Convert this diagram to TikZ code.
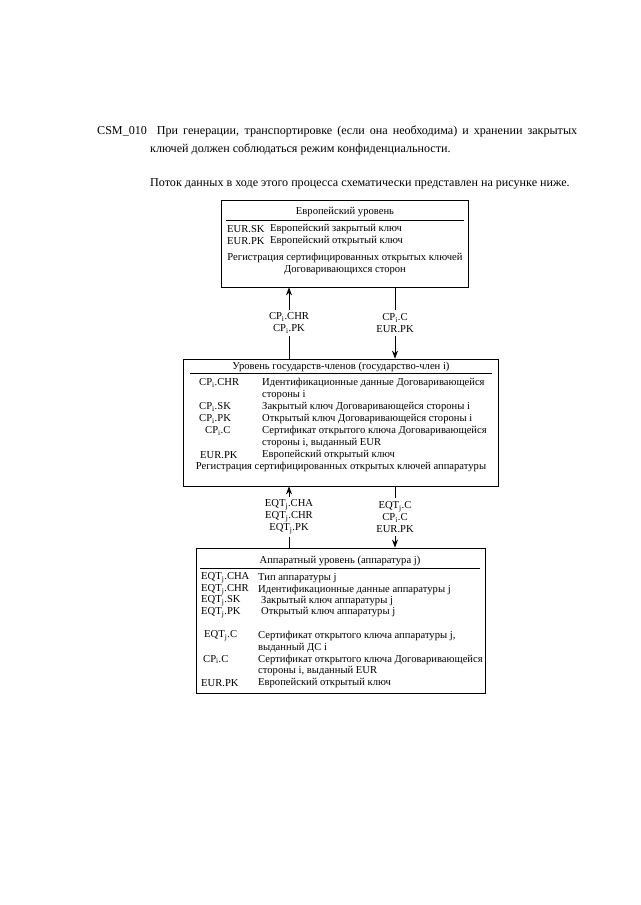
\documentclass[tikz,border=0pt]{standalone}
\usepackage{fontspec}
\setmainfont{Liberation Serif}
\usetikzlibrary{arrows.meta}
\newcommand{\sbi}[1]{\textsubscript{#1}}
\begin{document}
\begin{tikzpicture}[x=1pt,y=-1pt,
  maintext/.style={font=\fontsize{12.1}{15}\selectfont, inner sep=0pt, anchor=west},
  dtext/.style={font=\fontsize{10.6}{12}\selectfont, inner sep=0pt, anchor=west},
  ctext/.style={font=\fontsize{10.6}{12.5}\selectfont, inner sep=0pt, align=center},
  box/.style={draw, line width=0.8pt, inner sep=0pt},
  rule/.style={line width=0.8pt},
  arr/.style={line width=0.8pt, -{Stealth[length=8pt,width=6pt]}},
  lbl/.style={font=\fontsize{10.6}{12}\selectfont, fill=white, align=center, inner sep=3pt}]
\useasboundingbox (0,0) rectangle (640,905);

% heading paragraph
\node[maintext] (p1) at (97,131) {\makebox[480pt][s]{CSM\_010\ \ При генерации, транспортировке (если она необходима) и хранении закрытых}};
\node[maintext] (p2) at (150,149) {ключей должен соблюдаться режим конфиденциальности.};
\node[maintext] (p3) at (150,184) {Поток данных в ходе этого процесса схематически представлен на рисунке ниже.};

% column coordinates
\coordinate (xl) at (289,0);
\coordinate (xr) at (395,0);

% ---------- European level ----------
\node[box, minimum width=247pt, minimum height=87pt] (eur) at (344.5,243.5) {};
\node[ctext] (eurh) at (345,212) {Европейский уровень};
\draw[rule] (226,220) -- (464,220);
\node[dtext] (e1l) at (227,229) {EUR.SK};
\node[dtext] (e1r) at (270,229) {Европейский закрытый ключ};
\node[dtext] (e2l) at (227,241) {EUR.PK};
\node[dtext] (e2r) at (270,241) {Европейский открытый ключ};
\node[ctext] (e3) at (345,264) {Регистрация сертифицированных открытых ключей\\Договаривающихся сторон};

% ---------- Member state level ----------
\node[box, minimum width=315pt, minimum height=127pt] (ms) at (340.5,422.5) {};
\node[ctext] (msh) at (341,367) {Уровень государств-членов (государство-член i)};
\draw[rule] (190,373) -- (492,373);
\node[dtext] (m1l) at (199,383) {CP\sbi{i}.CHR};
\node[dtext] (m1r) at (262,383) {Идентификационные данные Договаривающейся};
\node[dtext] (m1s) at (262,395) {стороны i};
\node[dtext] (m2l) at (199,407) {CP\sbi{i}.SK};
\node[dtext] (m2r) at (262,407) {Закрытый ключ Договаривающейся стороны i};
\node[dtext] (m3l) at (199,419) {CP\sbi{i}.PK};
\node[dtext] (m3r) at (262,419) {Открытый ключ Договаривающейся стороны i};
\node[dtext] (m4l) at (205,431) {CP\sbi{i}.C};
\node[dtext] (m4r) at (262,431) {Сертификат открытого ключа Договаривающейся};
\node[dtext] (m4s) at (262,443) {стороны i, выданный EUR};
\node[dtext] (m5l) at (200,455) {EUR.PK};
\node[dtext] (m5r) at (262,455) {Европейский открытый ключ};
\node[ctext] (m6) at (341,467) {Регистрация сертифицированных открытых ключей аппаратуры};

% ---------- Equipment level ----------
\node[box, minimum width=289pt, minimum height=145pt] (eq) at (340.5,620.5) {};
\node[ctext] (eqh) at (340,561) {Аппаратный уровень (аппаратура j)};
\draw[rule] (200,568) -- (480,568);
\node[dtext] (q1l) at (201,578) {EQT\sbi{j}.CHA};
\node[dtext] (q1r) at (258,578) {Тип аппаратуры j};
\node[dtext] (q2l) at (201,589.5) {EQT\sbi{j}.CHR};
\node[dtext] (q2r) at (258,589.5) {Идентификационные данные аппаратуры j};
\node[dtext] (q3l) at (201,601) {EQT\sbi{j}.SK};
\node[dtext] (q3r) at (261,601) {Закрытый ключ аппаратуры j};
\node[dtext] (q4l) at (201,612.5) {EQT\sbi{j}.PK};
\node[dtext] (q4r) at (261,612.5) {Открытый ключ аппаратуры j};
\node[dtext] (q5l) at (204,636) {EQT\sbi{j}.C};
\node[dtext] (q5r) at (258,636) {Сертификат открытого ключа аппаратуры j,};
\node[dtext] (q5s) at (258,647.5) {выданный ДС i};
\node[dtext] (q6l) at (203,659.5) {CP\sbi{i}.C};
\node[dtext] (q6r) at (258,659.5) {Сертификат открытого ключа Договаривающейся};
\node[dtext] (q6s) at (258,671) {стороны i, выданный EUR};
\node[dtext] (q7l) at (201,683) {EUR.PK};
\node[dtext] (q7r) at (258,683) {Европейский открытый ключ};

% ---------- connectors ----------
\draw[arr] (ms.north -| xl) -- node[lbl] (a1) {CP\sbi{i}.CHR\\CP\sbi{i}.PK} (eur.south -| xl);
\draw[arr] (eur.south -| xr) -- node[lbl] (a2) {CP\sbi{i}.C\\EUR.PK} (ms.north -| xr);
\draw[arr] (eq.north -| xl) -- node[lbl] (a3) {EQT\sbi{j}.CHA\\EQT\sbi{j}.CHR\\EQT\sbi{j}.PK} (ms.south -| xl);
\draw[arr] (ms.south -| xr) -- node[lbl] (a4) {EQT\sbi{j}.C\\CP\sbi{i}.C\\EUR.PK} (eq.north -| xr);
\end{tikzpicture}
\end{document}
